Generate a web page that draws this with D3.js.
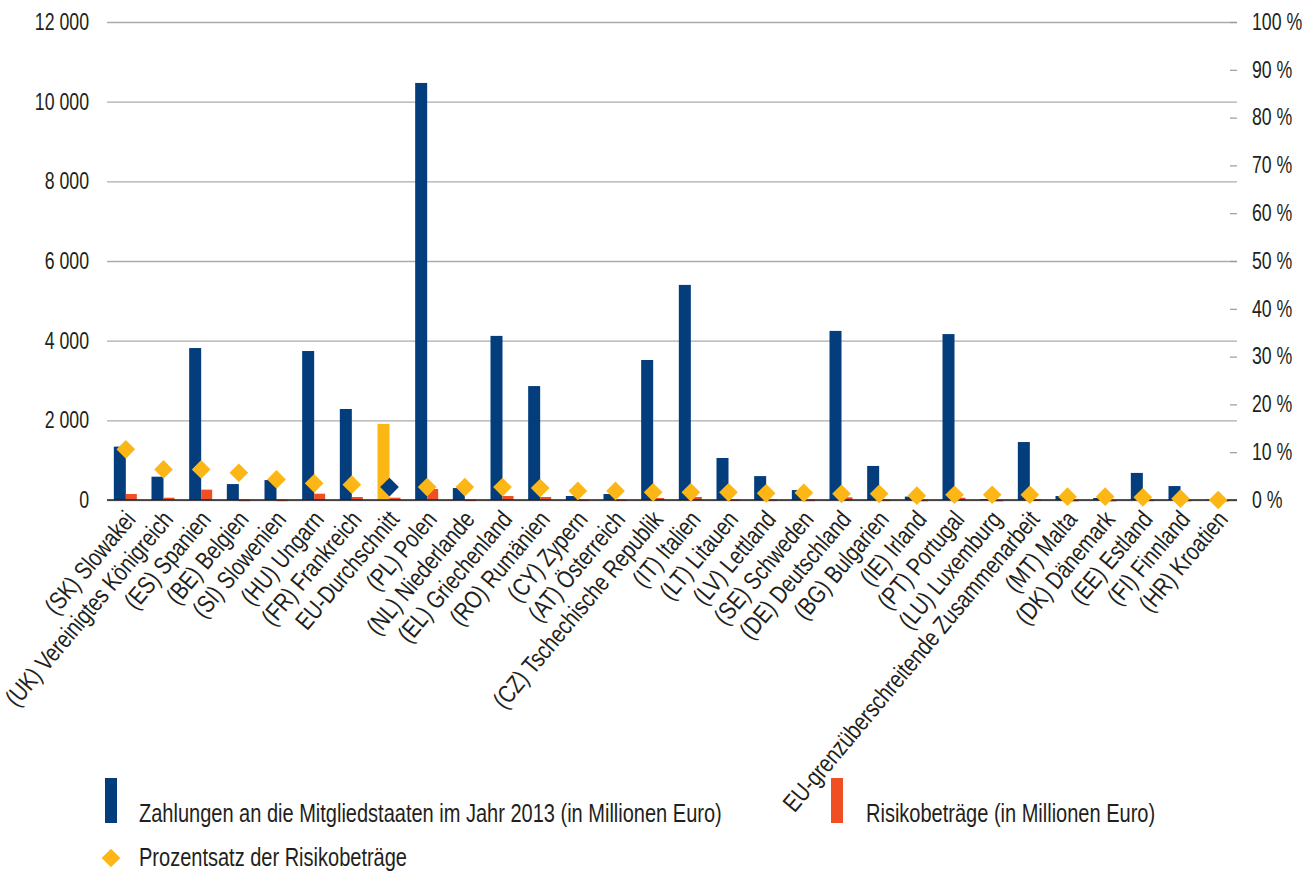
<!DOCTYPE html>
<html lang="de">
<head>
<meta charset="utf-8">
<script src="https://cdn.jsdelivr.net/npm/d3@7"></script>
<style>
  html, body { margin: 0; padding: 0; background: #fff; }
  svg { display: block; }
  text { font-family: "Liberation Sans", Arial, sans-serif; fill: #231f20; }
</style>
</head>
<body>
<svg id="chart" width="1315" height="875"></svg>
<script>
// Kategorien (Mitgliedstaaten, sortiert nach Prozentsatz der Risikobeträge)
const categories = [
  "(SK) Slowakei", "(UK) Vereinigtes Königreich", "(ES) Spanien", "(BE) Belgien",
  "(SI) Slowenien", "(HU) Ungarn", "(FR) Frankreich", "EU-Durchschnitt",
  "(PL) Polen", "(NL) Niederlande", "(EL) Griechenland", "(RO) Rumänien",
  "(CY) Zypern", "(AT) Österreich", "(CZ) Tschechische Republik", "(IT) Italien",
  "(LT) Litauen", "(LV) Lettland", "(SE) Schweden", "(DE) Deutschland",
  "(BG) Bulgarien", "(IE) Irland", "(PT) Portugal", "(LU) Luxemburg",
  "EU-grenzüberschreitende Zusammenarbeit", "(MT) Malta", "(DK) Dänemark",
  "(EE) Estland", "(FI) Finnland", "(HR) Kroatien"
];

// Zahlungen an die Mitgliedstaaten im Jahr 2013 (Mio. EUR)
const payments = [
  1340, 585, 3815, 400, 500, 3740, 2285, 1910,
  10470, 300, 4120, 2860, 100, 150, 3515, 5400,
  1055, 600, 250, 4245, 855, 85, 4165, 20,
  1455, 100, 50, 680, 350, 10
];

// Risikobeträge (Mio. EUR)
const riskAmounts = [
  150, 58, 260, 8, 8, 158, 75, 58,
  276, 10, 100, 75, 10, 10, 50, 75,
  12, 10, 8, 68, 10, 5, 58, 2,
  12, 3, 2, 8, 4, 0
];

// Prozentsatz der Risikobeträge (%)
const riskPercent = [
  10.6, 6.4, 6.4, 5.7, 4.3, 3.5, 3.2, 2.7,
  2.7, 2.7, 2.7, 2.5, 1.9, 1.9, 1.6, 1.6,
  1.6, 1.4, 1.5, 1.3, 1.3, 0.9, 1.1, 1.1,
  1.1, 0.7, 0.7, 0.55, 0.27, 0
];

// Achsenbeschriftungen
const amountTicks = [0, 2000, 4000, 6000, 8000, 10000, 12000];
const amountTickLabels = ["0", "2 000", "4 000", "6 000", "8 000", "10 000", "12 000"];
const percentTicks = [0, 10, 20, 30, 40, 50, 60, 70, 80, 90, 100];
const percentTickLabels = ["0 %", "10 %", "20 %", "30 %", "40 %", "50 %", "60 %", "70 %", "80 %", "90 %", "100 %"];

const seriesNames = ["Zahlungen", "Risikobeträge"];
const legendLabels = [
  "Zahlungen an die Mitgliedstaaten im Jahr 2013 (in Millionen Euro)",
  "Risikobeträge (in Millionen Euro)",
  "Prozentsatz der Risikobeträge"
];
const averageCategory = "EU-Durchschnitt";

const COLORS = { pay: "#033d7c", risk: "#f04e23", pct: "#fcb716", grid: "#ababab", axis: "#231f20" };
// horizontal condensing factors for the narrow type face
const NARROW_AXIS = 0.77;
const NARROW_CAT = 0.8;
const NARROW_LEGEND = 0.77;

const svg = d3.select("#chart");
const plot = { left: 107, right: 1237, top: 22, bottom: 500 };

const x = d3.scaleBand().domain(categories).range([plot.left, plot.right]).paddingInner(0).paddingOuter(0);
const xs = d3.scaleBand().domain(seriesNames).range([-12, 12]);
const y = d3.scaleLinear().domain([0, 12000]).range([plot.bottom, plot.top]);
const yPct = d3.scaleLinear().domain([0, 100]).range([plot.bottom, plot.top]);

const rows = categories.map((c, i) => ({
  cat: c, pay: payments[i], risk: riskAmounts[i], pct: riskPercent[i]
}));

// condense an axis tick label horizontally around its anchor
function condenseTick(sel, dx) {
  sel.attr("x", 0).attr("transform", `translate(${dx},0) scale(${NARROW_AXIS},1)`);
}

// Linke Achse mit Gitternetzlinien
const leftAxis = svg.append("g")
  .attr("transform", `translate(${plot.left},0)`)
  .call(d3.axisLeft(y)
    .tickValues(amountTicks)
    .tickSize(-(plot.right - plot.left))
    .tickPadding(18)
    .tickFormat((d, i) => amountTickLabels[i]));
leftAxis.select(".domain").remove();
leftAxis.selectAll(".tick line").attr("stroke", COLORS.grid).attr("stroke-width", 1.4);
leftAxis.selectAll(".tick text").attr("font-size", 23).style("fill", COLORS.axis).call(condenseTick, -18);

// Rechte Achse (Prozent)
const rightAxis = svg.append("g")
  .attr("transform", `translate(${plot.right},0)`)
  .call(d3.axisRight(yPct)
    .tickValues(percentTicks)
    .tickSize(-7)
    .tickPadding(15)
    .tickFormat((d, i) => percentTickLabels[i]));
rightAxis.select(".domain").remove();
rightAxis.selectAll(".tick line").attr("stroke", "#9a9a9a").attr("stroke-width", 1.2);
rightAxis.selectAll(".tick text").attr("font-size", 23).style("fill", COLORS.axis).call(condenseTick, 15);

// Balken: Zahlungen
svg.append("g").selectAll("rect")
  .data(rows)
  .join("rect")
  .attr("x", d => x(d.cat) + x.bandwidth() / 2 + xs("Zahlungen"))
  .attr("width", xs.bandwidth())
  .attr("y", d => y(d.pay))
  .attr("height", d => y(0) - y(d.pay))
  .attr("fill", d => d.cat === averageCategory ? COLORS.pct : COLORS.pay);

// Balken: Risikobeträge
svg.append("g").selectAll("rect")
  .data(rows)
  .join("rect")
  .attr("x", d => x(d.cat) + x.bandwidth() / 2 + xs("Risikobeträge"))
  .attr("width", xs.bandwidth() - 1)
  .attr("y", d => y(d.risk))
  .attr("height", d => Math.max(1.5, y(0) - y(d.risk)))
  .attr("fill", COLORS.risk);

// Nulllinie
svg.append("line")
  .attr("x1", plot.left).attr("x2", plot.right)
  .attr("y1", y(0)).attr("y2", y(0))
  .attr("stroke", COLORS.axis).attr("stroke-width", 1.6);

// Rauten: Prozentsatz
const diamond = d3.symbol().type(d3.symbolSquare).size(175);
svg.append("g").selectAll("path")
  .data(rows)
  .join("path")
  .attr("d", diamond)
  .attr("transform", d => `translate(${x(d.cat) + x.bandwidth() / 2},${yPct(d.pct)}) rotate(45)`)
  .attr("fill", d => d.cat === averageCategory ? COLORS.pay : COLORS.pct);

// Kategoriebeschriftungen (schräg gestellt)
svg.append("g").selectAll("text")
  .data(categories)
  .join("text")
  .attr("text-anchor", "end")
  .attr("font-size", 25)
  .attr("transform", d => `translate(${x(d) + x.bandwidth() / 2 + 11},${plot.bottom + 20}) rotate(-50) scale(${NARROW_CAT},1)`)
  .text(d => d);

// Legende
const legend = svg.append("g");
function legendText(tx, ty, label) {
  legend.append("text")
    .attr("font-size", 26)
    .attr("transform", `translate(${tx},${ty}) scale(${NARROW_LEGEND},1)`)
    .text(label);
}
legend.append("rect").attr("x", 105).attr("y", 778).attr("width", 12).attr("height", 45).attr("fill", COLORS.pay);
legendText(139, 822, legendLabels[0]);
legend.append("rect").attr("x", 831).attr("y", 778).attr("width", 12).attr("height", 45).attr("fill", COLORS.risk);
legendText(866, 822, legendLabels[1]);
legend.append("path").attr("d", diamond).attr("transform", "translate(111,858) rotate(45)").attr("fill", COLORS.pct);
legendText(139, 866, legendLabels[2]);
</script>
</body>
</html>
